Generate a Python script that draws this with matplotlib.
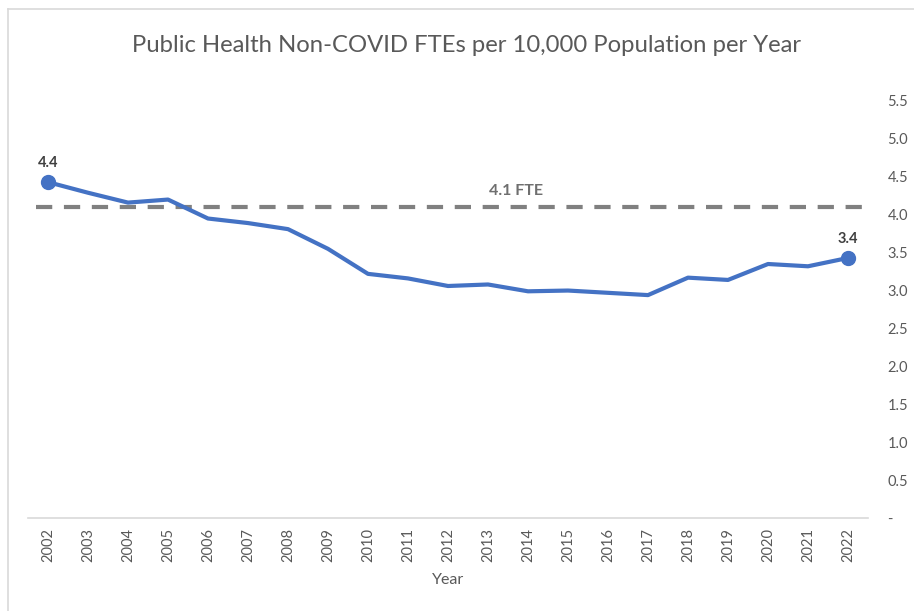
import matplotlib
matplotlib.use("Agg")
import matplotlib.pyplot as plt
from matplotlib.lines import Line2D

plt.rcParams['font.family'] = ['Lato', 'DejaVu Sans']

years = [str(y) for y in range(2002, 2023)]
fte = [4.43, 4.29, 4.16, 4.20, 3.95, 3.89, 3.81, 3.55, 3.22, 3.16, 3.06,
       3.08, 2.99, 3.00, 2.97, 2.94, 3.17, 3.14, 3.35, 3.32, 3.43]
benchmark = 4.1
benchmark_label = "4.1 FTE"
yticks = [0, 0.5, 1.0, 1.5, 2.0, 2.5, 3.0, 3.5, 4.0, 4.5, 5.0, 5.5]
ytick_labels = ["-", "0.5", "1.0", "1.5", "2.0", "2.5", "3.0", "3.5", "4.0", "4.5", "5.0", "5.5"]
title = "Public Health Non-COVID FTEs per 10,000 Population per Year"

W, H = 914, 611
fig = plt.figure(figsize=(W/100, H/100), dpi=100)
ax = fig.add_axes([28/W, (H-518)/H, 840/W, 417/H])

x = list(range(len(years)))
blue = '#4472C4'
ax.plot(x, fte, color=blue, lw=3, solid_capstyle='round', solid_joinstyle='round', zorder=3)
ax.plot([x[0], x[-1]], [fte[0], fte[-1]], 'o', color=blue, ms=10, zorder=4)

ax.axhline(benchmark, xmin=8/840, xmax=835/840, color='#808080', lw=3,
           dashes=(3.9, 2.8), zorder=2)
ax.text(11.7, benchmark + 0.12, benchmark_label, ha='center', va='bottom',
        fontsize=11.5, color='#6f6f6f', fontweight='bold')

ax.text(x[0], fte[0] + 0.16, f"{fte[0]:.1f}", ha='center', va='bottom',
        fontsize=10.5, color='#404040', fontweight='bold')
ax.text(x[-1], fte[-1] + 0.16, f"{fte[-1]:.1f}", ha='center', va='bottom',
        fontsize=10.5, color='#404040', fontweight='bold')

ax.set_xlim(-0.5, len(years) - 0.5)
ax.set_ylim(0, 5.5)
ax.set_xticks(x)
ax.set_xticklabels(years, rotation=90, fontsize=10.5, color='#595959')
ax.yaxis.tick_right()
ax.set_yticks(yticks)
ax.set_yticklabels(ytick_labels, fontsize=10.5, color='#595959')
ax.tick_params(axis='both', length=0)
ax.tick_params(axis='y', pad=14)
ax.tick_params(axis='x', pad=7)
for s in ['top', 'left', 'right']:
    ax.spines[s].set_visible(False)
ax.spines['bottom'].set_color('#D9D9D9')
ax.spines['bottom'].set_linewidth(1.2)

ax.set_xlabel("Year", fontsize=11.5, color='#595959', labelpad=8)

fig.text(467/W, 1 - 45/H, title, ha='center', va='center', fontsize=17.2, color='#595959')

# chart border (partially visible)
fig.add_artist(Line2D([8/W, 8/W], [0, 1 - 9/H], color='#D9D9D9', lw=1.2, transform=fig.transFigure))
fig.add_artist(Line2D([8/W, 1], [1 - 9/H, 1 - 9/H], color='#D9D9D9', lw=1.2, transform=fig.transFigure))

fig.savefig("out.png", dpi=100)
